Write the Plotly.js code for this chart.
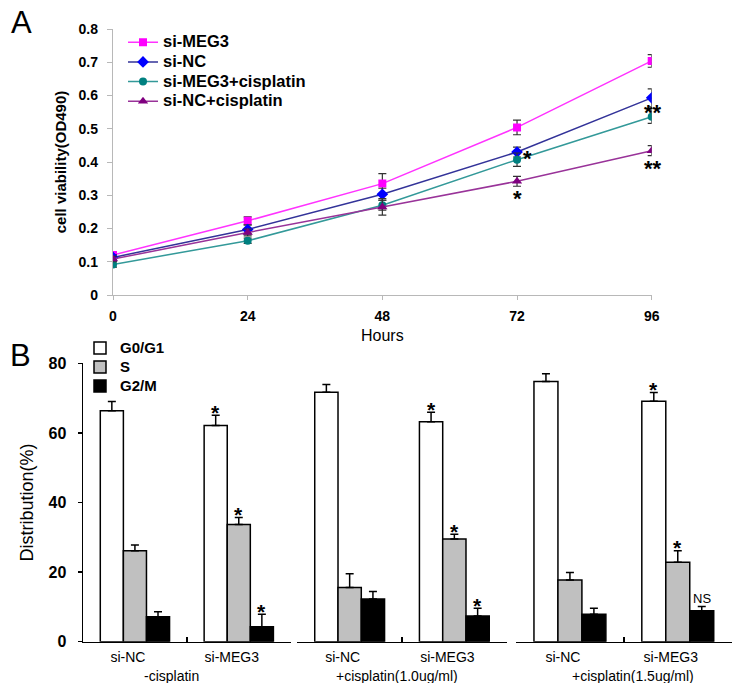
<!DOCTYPE html>
<html>
<head>
<meta charset="utf-8">
<script src="https://cdn.plot.ly/plotly-3.0.1.min.js"></script>
<style>html,body{margin:0;padding:0;background:#fff;}#chart{width:746px;height:683px;}</style>
</head>
<body>
<div id="chart"></div>
<script>
// ---------- Panel A data ----------
const hours = [0, 24, 48, 72, 96];
const seriesNames = ['si-MEG3', 'si-NC', 'si-MEG3+cisplatin', 'si-NC+cisplatin'];
const siMEG3 = [0.120, 0.223, 0.335, 0.504, 0.704];
const siMEG3Err = [0.010, 0.012, 0.030, 0.022, 0.019];
const siNC = [0.113, 0.197, 0.303, 0.430, 0.593];
const siNCErr = [0.008, 0.014, 0.018, 0.015, 0.027];
const siMEG3Cis = [0.092, 0.163, 0.270, 0.407, 0.536];
const siMEG3CisErr = [0.008, 0.008, 0.015, 0.020, 0.020];
const siNCCis = [0.108, 0.188, 0.265, 0.342, 0.434];
const siNCCisErr = [0.008, 0.010, 0.025, 0.015, 0.015];
const xTicksA = [0, 24, 48, 72, 96];

// ---------- Panel B data ----------
const groups = ['si-NC', 'si-MEG3'];
const conditions = ['-cisplatin', '+cisplatin(1.0ug/ml)', '+cisplatin(1.5ug/ml)'];
const phases = ['G0/G1', 'S', 'G2/M'];
// order: [cond0 si-NC, cond0 si-MEG3, cond1 si-NC, cond1 si-MEG3, cond2 si-NC, cond2 si-MEG3]
const g0g1 = [66.4, 62.1, 71.7, 63.2, 74.8, 69.1];
const g0g1Err = [2.6, 3.0, 2.2, 2.7, 2.2, 2.5];
const sPhase = [26.1, 33.7, 15.6, 29.5, 17.7, 22.8];
const sPhaseErr = [1.7, 2.0, 3.9, 1.4, 2.2, 3.3];
const g2m = [7.2, 4.3, 12.3, 7.4, 7.9, 8.9];
const g2mErr = [1.4, 3.6, 2.1, 2.2, 1.7, 1.2];
const sigG0G1 = ['', '*', '', '*', '', '*'];
const sigS = ['', '*', '', '*', '', '*'];
const sigG2M = ['', '*', '', '*', '', 'NS'];

// ---------- styling ----------
const FONT = 'Arial, "Liberation Sans", sans-serif';
const W = 746, H = 683;
const px = v => v / W;
const py = v => 1 - v / H;

const lineStyles = [
  {line: '#ff33ff', marker: '#ff00ff', symbol: 'square', size: 8},
  {line: '#333399', marker: '#0000ff', symbol: 'diamond', size: 9},
  {line: '#339999', marker: '#008080', symbol: 'circle', size: 8},
  {line: '#993399', marker: '#800080', symbol: 'triangle-up', size: 9}
];
const ySeries = [siMEG3, siNC, siMEG3Cis, siNCCis];
const yErrs = [siMEG3Err, siNCErr, siMEG3CisErr, siNCCisErr];

const traces = [];
seriesNames.forEach((nm, i) => {
  traces.push({
    type: 'scatter', mode: 'lines+markers', x: hours, y: ySeries[i],
    name: '<span style="font-size:16.5px"><b>' + nm + '</b></span>',
    xaxis: 'x', yaxis: 'y', legend: 'legend',
    line: {color: lineStyles[i].line, width: 1.5},
    marker: {color: lineStyles[i].marker, symbol: lineStyles[i].symbol, size: lineStyles[i].size},
    error_y: {type: 'data', array: yErrs[i], visible: true, color: '#333333', thickness: 1.2, width: 4}
  });
});

const phaseVals = [g0g1, sPhase, g2m];
const phaseErrs = [g0g1Err, sPhaseErr, g2mErr];
const phaseSig = [sigG0G1, sigS, sigG2M];
const phaseFill = ['#ffffff', '#c0c0c0', '#000000'];
const bAxes = ['x2', 'x3', 'x4'];
const bargap = 0.333;

conditions.forEach((cond, p) => {
  phases.forEach((ph, k) => {
    const vals = phaseVals[k].slice(p * 2, p * 2 + 2);
    const errs = phaseErrs[k].slice(p * 2, p * 2 + 2);
    traces.push({
      type: 'bar', x: groups, y: vals, name: '<span style="font-size:15px"><b>' + ph + '</b></span>',
      xaxis: bAxes[p], yaxis: 'y2', legend: 'legend2', showlegend: p === 0,
      marker: {color: phaseFill[k], line: {color: '#000000', width: 1.5}},
      error_y: {type: 'data', array: errs, arrayminus: [0, 0], symmetric: false, visible: true,
                color: '#000000', thickness: 1.5, width: 4}
    });
  });
});

const annotations = [];
// panel letters
annotations.push({xref: 'paper', yref: 'paper', x: px(21), y: py(23), text: 'A', showarrow: false,
  xanchor: 'center', yanchor: 'middle', font: {family: FONT, size: 31, color: '#000'}});
annotations.push({xref: 'paper', yref: 'paper', x: px(20), y: py(355), text: 'B', showarrow: false,
  xanchor: 'center', yanchor: 'middle', font: {family: FONT, size: 31, color: '#000'}});

// significance marks panel A  (series index, time index, text, pixel shifts)
const sigA = [
  {s: 1, t: 3, text: '*', dx: 10, dy: -6},
  {s: 3, t: 3, text: '*', dx: 0, dy: -17},
  {s: 1, t: 4, text: '**', dx: 1, dy: -15},
  {s: 3, t: 4, text: '**', dx: 1, dy: -18}
];
sigA.forEach(m => {
  annotations.push({xref: 'x', yref: 'y', x: hours[m.t], y: ySeries[m.s][m.t], text: '<b>' + m.text + '</b>',
    showarrow: false, xanchor: 'center', yanchor: 'middle', xshift: m.dx, yshift: m.dy,
    font: {family: FONT, size: 22, color: '#000'}});
});

// significance marks panel B
const barW = (1 - bargap) / 3;
conditions.forEach((cond, p) => {
  groups.forEach((g, gi) => {
    phases.forEach((ph, k) => {
      const idx = p * 2 + gi;
      const t = phaseSig[k][idx];
      if (!t) return;
      const isStar = t === '*';
      annotations.push({xref: bAxes[p], yref: 'y2', x: gi + (k - 1) * barW,
        y: phaseVals[k][idx] + phaseErrs[k][idx], text: isStar ? '<b>*</b>' : t, showarrow: false,
        xanchor: 'center', yanchor: 'middle', yshift: isStar ? 3 : 8,
        font: {family: FONT, size: isStar ? 21 : 13, color: '#000'}});
    });
  });
});

// second line of category labels (condition)
const condShift = [-15, -5, 9];
conditions.forEach((cond, p) => {
  annotations.push({xref: bAxes[p], yref: 'paper', x: 0.5, y: py(675.5), text: cond, showarrow: false,
    xanchor: 'center', yanchor: 'middle', xshift: condShift[p],
    font: {family: FONT, size: 14, color: '#000'}});
});

const catAxis = (d0, d1) => ({
  domain: [px(d0), px(d1)], anchor: 'y2', type: 'category', categoryorder: 'array', categoryarray: groups,
  range: [-0.5, 1.5], showline: true, linecolor: '#000', linewidth: 1.5,
  ticks: 'inside', tickson: 'boundaries', ticklen: 5, tickwidth: 1.5, tickcolor: '#000',
  showgrid: false, zeroline: false, ticklabelshift: -7, ticklabelstandoff: 2,
  tickfont: {family: FONT, size: 14, color: '#000'}, fixedrange: true
});

const layout = {
  width: W, height: H,
  margin: {l: 0, r: 0, t: 0, b: 0},
  paper_bgcolor: '#fff', plot_bgcolor: 'rgba(0,0,0,0)',
  font: {family: FONT, color: '#000'},
  barmode: 'group', bargap: bargap, bargroupgap: 0,
  showlegend: true,
  legend: {x: px(123), y: py(27.5), xanchor: 'left', yanchor: 'top', bgcolor: 'rgba(0,0,0,0)',
    borderwidth: 0, font: {family: FONT, size: 12.8, color: '#000'}},
  legend2: {x: px(80), y: py(333.5), xanchor: 'left', yanchor: 'top', bgcolor: 'rgba(0,0,0,0)',
    borderwidth: 0, font: {family: FONT, size: 12, color: '#000'}},
  xaxis: {
    domain: [px(113), px(651.7)], anchor: 'y', range: [0, 96], tickvals: xTicksA,
    showline: true, linecolor: '#b8b8b8', linewidth: 1.2, ticks: 'outside', ticklen: 4,
    tickcolor: '#b8b8b8', showgrid: false, zeroline: false, ticklabelstandoff: 4,
    tickfont: {family: FONT, size: 14, color: '#000', weight: 'bold'},
    title: {text: 'Hours', font: {family: FONT, size: 16, color: '#000'}, standoff: 6},
    fixedrange: true
  },
  yaxis: {
    domain: [py(295), py(29)], anchor: 'x', range: [0, 0.8], dtick: 0.1,
    showline: true, linecolor: '#b8b8b8', linewidth: 1.2, ticks: 'outside', ticklen: 5,
    tickcolor: '#b8b8b8', showgrid: false, zeroline: false, ticklabelstandoff: 6,
    tickfont: {family: FONT, size: 14, color: '#000', weight: 'bold'},
    title: {text: '<b>cell viability(OD490)</b>', font: {family: FONT, size: 15, color: '#000'}, standoff: 8},
    fixedrange: true
  },
  yaxis2: {
    domain: [py(641.7), py(363.3)], anchor: 'x2', range: [0, 80], dtick: 20,
    showline: true, linecolor: '#000', linewidth: 1.5, ticks: 'outside', ticklen: 4, tickwidth: 1.5,
    tickcolor: '#000', showgrid: false, zeroline: false, ticklabelstandoff: 8,
    tickfont: {family: FONT, size: 16, color: '#000', weight: 'bold'},
    title: {text: 'Distribution(%)', font: {family: FONT, size: 18, color: '#000'}, standoff: 10},
    fixedrange: true
  },
  xaxis2: catAxis(83, 290.7),
  xaxis3: catAxis(297.3, 506.7),
  xaxis4: catAxis(516, 731.7),
  annotations: annotations
};

Plotly.newPlot('chart', traces, layout, {displayModeBar: false, staticPlot: true});
</script>
</body>
</html>
